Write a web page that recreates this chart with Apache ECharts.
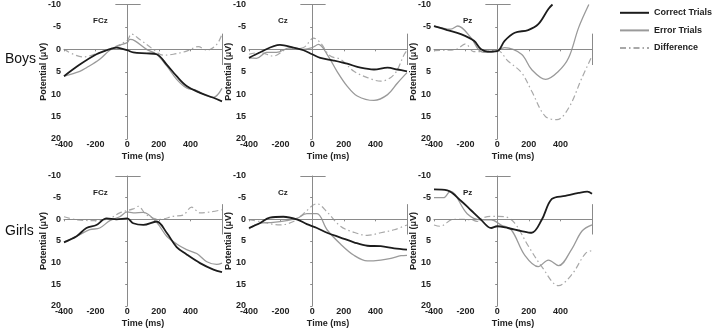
<!DOCTYPE html>
<html>
<head>
<meta charset="utf-8">
<script src="https://cdn.jsdelivr.net/npm/echarts@6/dist/echarts.min.js"></script>
<style>
  html, body { margin: 0; padding: 0; background: #fff; }
  #chart { width: 712px; height: 329px; }
</style>
</head>
<body>
<div id="chart"></div>
<script>
// panel names, one row per group
const groups = ['Boys', 'Girls'];
const sites = ['FCz', 'Cz', 'Pz'];
const seriesNames = ['Correct Trials', 'Error Trials', 'Difference'];
const yTicks = [-10, -5, 0, 5, 10, 15, 20];
const xTicks = [-400, -200, 0, 200, 400];

// [time ms, potential uV]
const boysFCzCorrect = [[-400,6.0],[-300,3.4],[-195,1.1],[-130,0.2],[-68,-0.4],[0,0.2],[38,0.7],[123,0.9],[186,1.1],[250,3.4],[313,6.0],[376,8.2],[461,9.7],[546,10.8],[600,11.6]];
const boysFCzError = [[-400,6.0],[-300,4.9],[-258,4.1],[-174,2.2],[-110,0.2],[-47,-0.9],[0,-1.5],[17,-2.2],[49,-1.9],[123,0],[186,1.1],[250,3.7],[313,6.7],[376,8.6],[440,9.2],[504,10.4],[546,10.7],[600,8.7]];
const boysFCzDiff = [[-400,0],[-280,1.7],[-174,0.7],[-89,-0.4],[0,-2.0],[27,-3.4],[80,-2.2],[165,0],[228,1.3],[292,1.1],[376,0.4],[450,-0.6],[504,0.2],[567,-1.1],[600,-3.4]];

const boysCzCorrect = [[-400,1.9],[-332,0.7],[-204,-1.0],[-119,-0.4],[-55,0.2],[0,1.1],[51,1.9],[136,2.5],[221,3.2],[306,4.1],[391,4.5],[477,4.1],[540,4.5],[600,4.9]];
const boysCzError = [[-400,1.9],[-353,2.0],[-289,0.7],[-226,0.7],[-140,-0.4],[-55,0],[0,-0.4],[40,-1.1],[94,1.1],[157,4.9],[221,8.2],[285,10.4],[391,11.4],[477,10.1],[540,7.5],[600,5.2]];
const boysCzDiff = [[-400,1.1],[-332,0.7],[-247,1.5],[-162,0],[-55,-0.4],[9,-2.5],[51,-1.5],[115,1.5],[179,2.2],[264,4.9],[349,6.3],[434,7.1],[519,5.6],[583,1.1],[600,0.2]];

const boysPzCorrect = [[-400,-5.2],[-316,-4.3],[-230,-3.4],[-147,-1.9],[-102,0],[-60,0.5],[0,0.4],[47,-1.9],[111,-3.7],[196,-4.3],[260,-5.6],[324,-9.0],[350,-10]];
const boysPzError = [[-400,-5.2],[-294,-4.5],[-250,-5.2],[-166,-2.6],[-102,0.5],[-38,0.7],[0,0.2],[47,-0.4],[154,1.1],[218,4.5],[307,6.7],[388,4.9],[452,1.9],[516,-4.9],[580,-10]];
const boysPzDiff = [[-400,0.3],[-330,0.2],[-260,0],[-200,-1.2],[-150,0.5],[-100,0.5],[0,0.2],[68,2.6],[154,5.2],[218,9.3],[303,14.9],[378,15.7],[452,13.1],[537,6.3],[600,1.5]];

const girlsFCzCorrect = [[-400,5.3],[-320,3.9],[-258,2.0],[-195,1.3],[-131,-0.2],[-68,0],[0,-0.2],[38,0.9],[102,1.3],[186,0.5],[250,3.1],[313,6.4],[376,8.1],[461,10.1],[546,11.6],[600,12.2]];
const girlsFCzError = [[-400,5.2],[-320,3.9],[-237,2.4],[-174,2.0],[-110,0.3],[-47,-0.6],[0,-1.7],[38,-1.5],[102,-1.6],[186,0.7],[250,3.9],[313,5.7],[376,7.0],[440,7.9],[504,9.8],[567,10.4],[600,10.1]];
const girlsFCzDiff = [[-400,-0.6],[-320,0.1],[-195,0.3],[-110,-0.2],[-47,-1.5],[38,-2.4],[70,-3.0],[123,-1.0],[207,0],[292,-0.7],[355,-1.0],[408,-2.8],[461,-1.5],[525,-1.7],[600,-2.2]];

const girlsCzCorrect = [[-400,2.0],[-332,0.9],[-268,-0.4],[-183,-0.6],[-98,0],[-34,1.1],[30,2.0],[94,3.1],[179,4.2],[264,5.3],[349,6.1],[434,6.2],[519,6.7],[600,7.0]];
const girlsCzError = [[-400,2.2],[-332,0.9],[-247,0.7],[-162,0.3],[-98,-0.2],[-34,-1.3],[30,-1.3],[94,2.4],[179,5.7],[264,8.3],[349,9.6],[434,9.4],[498,9.0],[562,8.4],[600,8.3]];
const girlsCzDiff = [[-400,0.1],[-332,0.5],[-204,1.3],[-119,0.5],[-55,-1.3],[30,-3.6],[94,-1.7],[179,1.6],[264,3.0],[349,3.7],[434,3.1],[519,2.4],[600,1.3]];

const girlsPzCorrect = [[-400,-6.9],[-316,-6.7],[-230,-4.3],[-166,-2.1],[-105,0],[-38,2.0],[0,1.6],[68,2.0],[154,2.7],[218,3.1],[282,0.1],[346,-4.7],[431,-5.4],[516,-6.1],[570,-6.4],[600,-5.9]];
const girlsPzError = [[-400,-5.0],[-340,-5.0],[-297,-6.5],[-190,-1.3],[-105,0.1],[-38,0.1],[25,1.3],[89,2.4],[175,8.3],[260,10.9],[324,9.4],[388,10.7],[473,6.8],[537,2.7],[600,1.3]];
const girlsPzDiff = [[-400,1.3],[-362,1.6],[-277,0],[-166,0.1],[-124,0.5],[-102,-0.2],[-38,-0.7],[47,-0.6],[111,0.9],[196,6.1],[282,10.9],[388,15.3],[473,12.7],[558,7.9],[600,7.2]];

const panelData = [
  [boysFCzCorrect, boysFCzError, boysFCzDiff],
  [boysCzCorrect, boysCzError, boysCzDiff],
  [boysPzCorrect, boysPzError, boysPzDiff],
  [girlsFCzCorrect, girlsFCzError, girlsFCzDiff],
  [girlsCzCorrect, girlsCzError, girlsCzDiff],
  [girlsPzCorrect, girlsPzError, girlsPzDiff]
];

const font = 'Liberation Sans, Arial, sans-serif';
const axisGrey = '#8a8a8a';
const lineStyles = [
  { color: '#1c1c1c', width: 1.8, type: 'solid' },
  { color: '#9a9a9a', width: 1.3, type: 'solid' },
  { color: '#a8a8a8', width: 1.2, type: [6, 3, 1.5, 3] }
];

const colLeft = [64, 249, 434];
const rowTop = [4, 176];

const grids = [], xAxes = [], yAxes = [], series = [], graphics = [];

for (let p = 0; p < 6; p++) {
  const r = Math.floor(p / 3), c = p % 3;
  grids.push({ left: colLeft[c], top: rowTop[r], width: 158, height: 135 });
  xAxes.push({
    gridIndex: p, type: 'value', min: -400, max: 600, interval: 200,
    name: 'Time (ms)', nameLocation: 'middle', nameGap: 13, nameMoveOverlap: false,
    nameTextStyle: { fontFamily: font, fontSize: 9, fontWeight: 'bold', color: '#222' },
    axisLine: { lineStyle: { color: axisGrey } },
    axisTick: { length: 2, lineStyle: { color: axisGrey } },
    axisLabel: {
      margin: 1, fontFamily: font, fontSize: 9, fontWeight: 'bold', color: '#222',
      formatter: v => xTicks.indexOf(v) >= 0 ? String(v) : ''
    },
    splitLine: { show: false }
  });
  yAxes.push({
    gridIndex: p, type: 'value', inverse: true, min: -10, max: 20, interval: 5,
    name: 'Potential (μV)', nameLocation: 'middle', nameGap: 16, nameMoveOverlap: false,
    nameTextStyle: { fontFamily: font, fontSize: 9, fontWeight: 'bold', color: '#222' },
    axisLine: { show: true, lineStyle: { color: axisGrey } },
    axisTick: { show: true, length: 2, lineStyle: { color: axisGrey } },
    axisLabel: {
      margin: 3, fontFamily: font, fontSize: 9, fontWeight: 'bold', color: '#222',
      formatter: v => yTicks.indexOf(v) >= 0 ? String(v) : ''
    },
    splitLine: { show: false }
  });
  panelData[p].forEach((d, k) => {
    const s = {
      name: seriesNames[k], type: 'line', xAxisIndex: p, yAxisIndex: p,
      data: d, smooth: 0.35, symbol: 'none', lineStyle: lineStyles[k],
      itemStyle: { color: lineStyles[k].color }, z: 5 - k
    };
    if (k === 0) {
      s.markLine = {
        silent: true, symbol: 'none', animation: false,
        label: { show: false },
        lineStyle: { color: axisGrey, width: 1, type: 'solid' },
        data: [
          { yAxis: 0 },
          { xAxis: 0 },
          [{ coord: [-75, -10] }, { coord: [85, -10] }],
          [{ coord: [600, -3.5] }, { coord: [600, 3.5] }]
        ]
      };
    }
    series.push(s);
  });
  graphics.push({
    type: 'text', left: colLeft[c] + 29, top: rowTop[r] + 13,
    style: { text: sites[c], font: 'bold 8px ' + font, fill: '#222' }
  });
}

graphics.push({ type: 'text', left: 5, top: 52, style: { text: groups[0], font: '14px ' + font, fill: '#111' } });
graphics.push({ type: 'text', left: 5, top: 224, style: { text: groups[1], font: '14px ' + font, fill: '#111' } });

const chart = echarts.init(document.getElementById('chart'), null, { renderer: 'canvas' });
chart.setOption({
  animation: false,
  backgroundColor: '#fff',
  legend: {
    orient: 'vertical', left: 614, top: 3,
    itemWidth: 29, itemHeight: 12, itemGap: 8,
    data: seriesNames,
    itemStyle: { opacity: 0 },
    textStyle: { fontFamily: font, fontSize: 9, fontWeight: 'bold', color: '#222' }
  },
  grid: grids,
  xAxis: xAxes,
  yAxis: yAxes,
  series: series,
  graphic: graphics
});
</script>
</body>
</html>
